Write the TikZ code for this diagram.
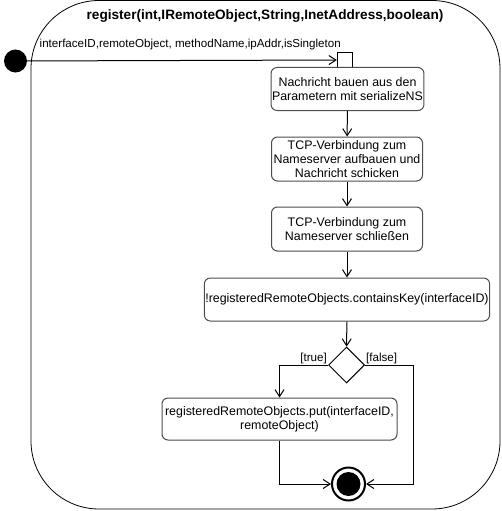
\documentclass[tikz,border=0pt]{standalone}
\usepackage{fontspec}
\setmainfont{Liberation Sans}
\usetikzlibrary{arrows.meta,shapes.geometric}

\begin{document}
\begin{tikzpicture}[x=1pt,y=-1pt,
		every node/.style={font=\fontsize{12.4}{14}\selectfont},
		small/.style={font=\fontsize{11.6}{14}\selectfont},
		action/.style={draw=black!70,line width=1pt,rounded corners=6pt,align=center,inner sep=1pt,minimum height=43pt},
		flow/.style={line width=1pt,-{Straight Barb[length=7pt,width=9pt]}}]
				\useasboundingbox (0,0) rectangle (501,511);
				\draw[line width=0.8pt,rounded corners=68pt] (31,0.5) rectangle (500,509);
				\node[font=\fontsize{13.6}{16}\selectfont\bfseries] (title) at (265,16) {register(int,IRemoteObject,String,InetAddress,boolean)};
				\node[circle,fill,minimum size=23pt,inner sep=0pt] (init) at (15.5,61) {};
				\node[draw,minimum size=15pt,inner sep=0pt] (pin) at (344.5,60) {};
				\node[small,anchor=base west,inner sep=0pt] (params) at (39.5,48) {interfaceID,remoteObject, methodName,ipAddr,isSingleton};
				\node[action,minimum width=151pt] (build) at (347.5,89) {Nachricht bauen aus den\\Parametern mit serializeNS};
				\node[action,minimum width=151pt,minimum height=44pt] (send) at (347,159) {TCP-Verbindung zum\\Nameserver aufbauen und\\Nachricht schicken};
				\node[action,minimum width=151pt,minimum height=44pt] (close) at (347,229) {TCP-Verbindung zum\\Nameserver schließen};
				\node[action,minimum width=280pt] (check) at (347,299.5) {!registeredRemoteObjects.containsKey(interfaceID)};
				\node[draw,diamond,line width=1pt,minimum width=36pt,minimum height=36pt,inner sep=0pt] (dec) at (346.5,365) {};
				\node[action,minimum width=235pt,minimum height=42pt] (put) at (279.5,419) {registeredRemoteObjects.put(interfaceID,\\remoteObject)};
				\node[circle,draw,line width=2pt,minimum size=33pt,inner sep=0pt] (end) at (348.5,484) {};
				\fill (end) circle (12pt);
				\coordinate (falsecorner) at (413,365);
				\node[small,anchor=south east,inner sep=1pt] (truelabel) at (dec.west) {[true]};
				\node[small,anchor=south west,inner sep=1pt] (falselabel) at (dec.east) {[false]};
				\draw[flow] (init) -- (pin);
				\draw[flow] (build) -- (send);
				\draw[flow] (send) -- (close);
				\draw[flow] (close) -- (check);
				\draw[flow] (check) -- (dec);
				\draw[flow] (dec.west) -| (put.north);
				\draw[flow] (dec.east) -- (falsecorner) |- (end.east);
				\draw[flow] (put.south) |- (end.west);
			\end{tikzpicture}
\end{document}
